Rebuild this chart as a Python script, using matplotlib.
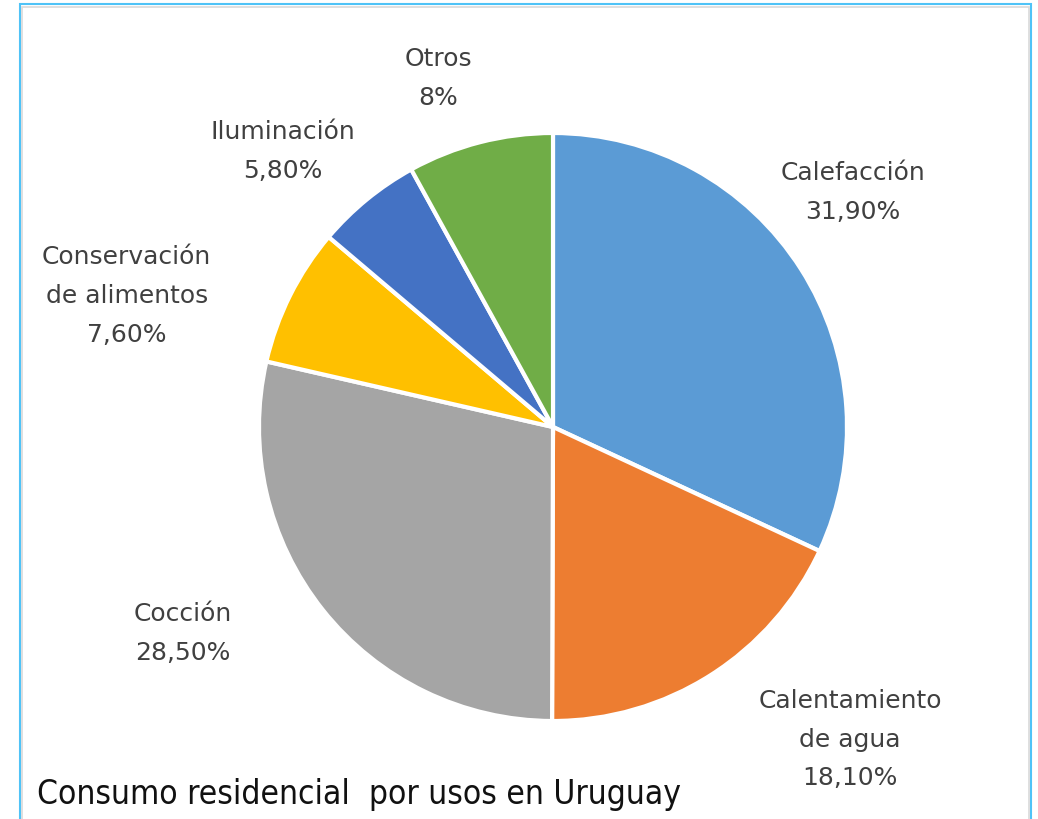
import matplotlib
matplotlib.use("Agg")
import matplotlib.pyplot as plt
from matplotlib.patches import Rectangle
from matplotlib import font_manager

usos = ["Calefacción", "Calentamiento\nde agua", "Cocción",
        "Conservación\nde alimentos", "Iluminación", "Otros"]
valores = [31.9, 18.1, 28.5, 7.6, 5.8, 8.0]
etiquetas_pct = ["31,90%", "18,10%", "28,50%", "7,60%", "5,80%", "8%"]
colores = ["#5B9BD5", "#ED7D31", "#A5A5A5", "#FFC000", "#4472C4", "#70AD47"]
# label centres, in pie radii from the centre
pos_etiquetas = [(1.02, 0.80), (1.01, -1.06), (-1.26, -0.70),
                 (-1.45, 0.45), (-0.92, 0.94), (-0.39, 1.19)]
titulo = "Consumo residencial  por usos en Uruguay"

condensada = any(f.name == "DejaVu Sans" and f.stretch == "condensed"
                 for f in font_manager.fontManager.ttflist)

W, H = 1038, 820
cx, cy, R = 553, 428, 294

fig = plt.figure(figsize=(W / 100, H / 100), dpi=100)
ax = fig.add_axes([0, 0, 1, 1])

ax.pie(valores, colors=colores, startangle=90, counterclock=False,
       radius=1, center=(0, 0), frame=True,
       wedgeprops=dict(edgecolor="white", linewidth=3))
ax.set_xlim(-cx / R, (W - cx) / R)
ax.set_ylim(-(H - cy) / R, cy / R)
ax.axis("off")

for nombre, pct, (x, y) in zip(usos, etiquetas_pct, pos_etiquetas):
    ax.text(x, y, nombre + "\n" + pct, ha="center", va="center",
            fontsize=18, color="#404040", linespacing=1.78,
            family="DejaVu Sans")

if condensada:
    fig.text(37 / W, 1 - 795 / H, titulo, ha="left", va="center",
             fontsize=24, color="#111111", family="DejaVu Sans",
             fontstretch="condensed")
else:
    fig.text(37 / W, 1 - 795 / H, titulo, ha="left", va="center",
             fontsize=21.7, color="#111111", family="DejaVu Sans")

# chart frame
fig.patches.append(Rectangle((20 / W, -0.05), 1011 / W, (H - 5) / H + 0.05,
                             transform=fig.transFigure, fill=False,
                             edgecolor="#4FC3F7", linewidth=1.5))
fig.patches.append(Rectangle((22 / W, -0.05), 1007 / W, (H - 8) / H + 0.05,
                             transform=fig.transFigure, fill=False,
                             edgecolor="#D9D9D9", linewidth=1.2))

fig.savefig("out.png", dpi=100)
